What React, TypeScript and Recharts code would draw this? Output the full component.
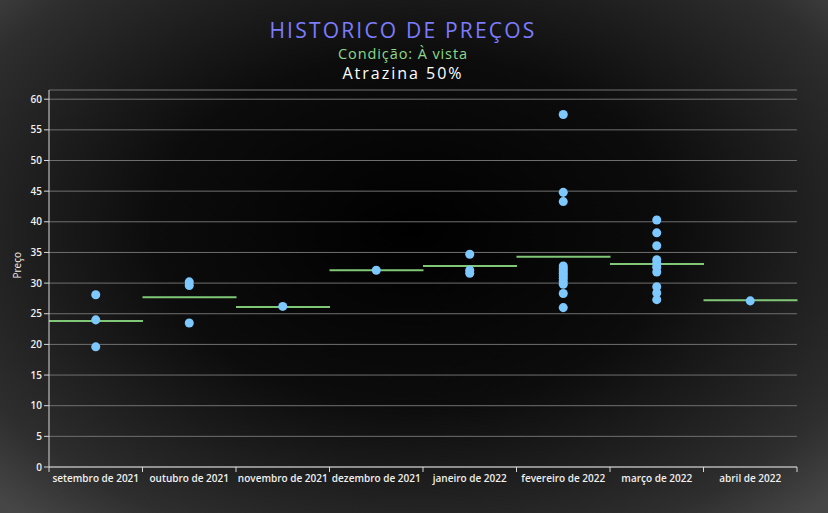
import * as React from 'react';
import {
  ComposedChart, Bar, Scatter, XAxis, YAxis, CartesianGrid
} from 'recharts';

const months = [
  "setembro de 2021", "outubro de 2021", "novembro de 2021", "dezembro de 2021",
  "janeiro de 2022", "fevereiro de 2022", "março de 2022", "abril de 2022"
];

// media do mes (linha verde)
const averages = [23.8, 27.7, 26.1, 32.1, 32.8, 34.3, 33.1, 27.2];

// precos observados por mes
const setPrices = [28.1, 24.0, 19.6];
const outPrices = [30.2, 29.6, 23.5];
const novPrices = [26.2];
const dezPrices = [32.1];
const janPrices = [34.7, 32.1, 31.6];
const fevPrices = [57.5, 44.8, 43.3, 32.8, 32.4, 32.0, 31.6, 31.2, 30.8, 30.3, 29.8, 28.3, 26.0];
const marPrices = [40.3, 38.2, 36.1, 33.8, 33.2, 32.6, 31.8, 29.4, 28.4, 27.3];
const abrPrices = [27.1];

const yTicks = [0, 5, 10, 15, 20, 25, 30, 35, 40, 45, 50, 55, 60];

const pricesByMonth = [setPrices, outPrices, novPrices, dezPrices, janPrices, fevPrices, marPrices, abrPrices];

const chartData = months.map((m, i) => ({ month: m, avg: averages[i] }));
const points: Array<{ month: string, price: number }> = [];
pricesByMonth.forEach((list, i) => {
  list.forEach(p => points.push({ month: months[i], price: p }));
});

function AvgLine(props: any) {
  const { x, y, width } = props;
  return <line x1={x} x2={x + width} y1={y} y2={y} stroke="#80c878" strokeWidth={2} />;
}

function MonthTick(props: any) {
  const { x, y, payload, index } = props;
  const off = payload && payload.offset ? payload.offset : 46.75;
  return (
    <g>
      <line x1={x - off} x2={x - off} y1={y} y2={y + 5} stroke="#d8d8d8" />
      {index === months.length - 1 &&
        <line x1={x + off} x2={x + off} y1={y} y2={y + 5} stroke="#d8d8d8" />}
      <text x={x} y={y + 15} textAnchor="middle" fill="#f0f0f0"
        fontSize={10} fontFamily="Open Sans" fontWeight={600}>
        {payload.value}
      </text>
    </g>
  );
}

const titleBase: React.CSSProperties = {
  position: 'absolute', left: 0, width: 806, textAlign: 'center', lineHeight: 1, whiteSpace: 'nowrap'
};

export default function App() {
  return (
    <div style={{
      position: 'absolute', left: 0, top: 0, width: 828, height: 513,
      background: 'radial-gradient(ellipse 70% 75% at 50% 45%, #000 0%, #0c0c0c 45%, #2e2e2e 85%, #464646 100%)',
      fontFamily: 'Open Sans'
    }}>
      <div style={{ ...titleBase, top: 20, color: '#7c7cff', fontSize: 21, letterSpacing: 2.2 }}>
        HISTORICO DE PREÇOS
      </div>
      <div style={{ ...titleBase, top: 47, color: '#8fd88a', fontSize: 14.5, letterSpacing: 0.9 }}>
        Condição: À vista
      </div>
      <div style={{ ...titleBase, top: 65, color: '#ffffff', fontSize: 16, letterSpacing: 2 }}>
        Atrazina 50%
      </div>
      <div style={{ position: 'absolute', left: 0, top: 0 }}>
        <ComposedChart width={828} height={513} data={chartData}
          margin={{ top: 90, right: 31, bottom: 16, left: 20 }}
          barCategoryGap={0}>
          <CartesianGrid vertical={false} stroke="#707070" />
          <XAxis dataKey="month" type="category" allowDuplicatedCategory={false}
            height={30} tickSize={0} tickMargin={0} interval={0}
            axisLine={{ stroke: '#d8d8d8' }} tickLine={false}
            tick={<MonthTick />} />
          <YAxis type="number" domain={[0, 61.5]} ticks={yTicks} width={29}
            tickSize={5} tickMargin={2}
            axisLine={{ stroke: '#d8d8d8' }} tickLine={{ stroke: '#d8d8d8' }}
            tick={{ fill: '#f0f0f0', fontSize: 10, fontFamily: 'Open Sans', fontWeight: 600 }}
            label={{ value: 'Preço', angle: -90, position: 'insideLeft', offset: -3,
              fill: '#f0f0f0', fontSize: 10, fontFamily: 'Open Sans' }} />
          <Bar dataKey="avg" shape={<AvgLine />} isAnimationActive={false} />
          <Scatter data={points} dataKey="price" fill="#7cc8ff" isAnimationActive={false} />
        </ComposedChart>
      </div>
    </div>
  );
}
